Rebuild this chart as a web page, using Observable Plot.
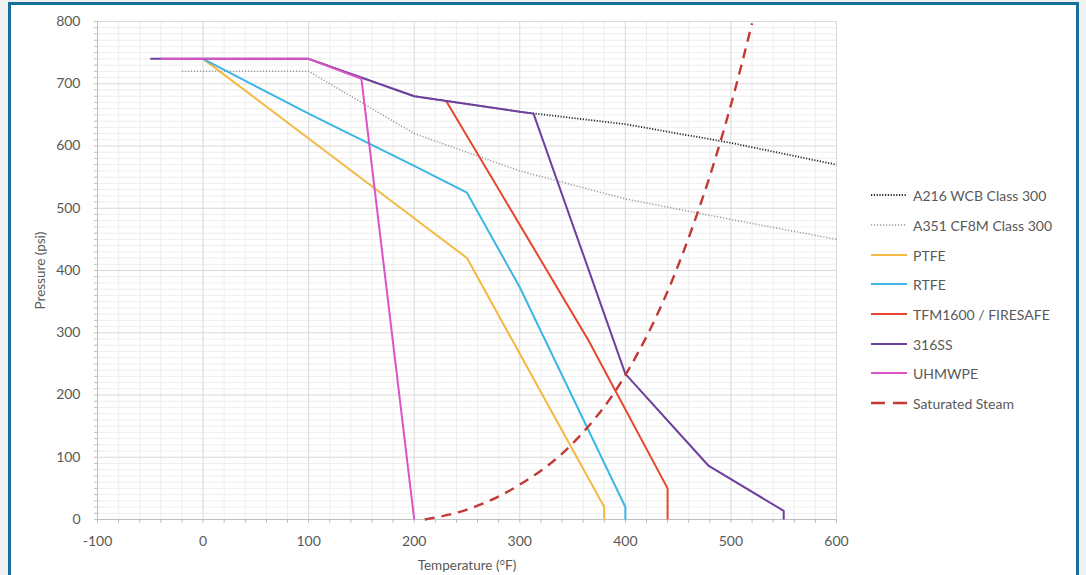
<!DOCTYPE html>
<html>
<head>
<meta charset="utf-8">
<script src="https://cdn.jsdelivr.net/npm/d3@7"></script>
<script src="https://cdn.jsdelivr.net/npm/@observablehq/plot@0.6"></script>
<style>
  html, body { margin: 0; padding: 0; background: #eef0f2; width: 1086px; height: 575px; overflow: hidden; }
  #frame { position: absolute; left: 8px; top: 2px; width: 1065px; height: 620px; border: 3px solid #17709a; background: #ffffff; }
  #chart { position: absolute; left: 0; top: 0; }
  #legend { position: absolute; left: 870px; top: 185px; font-family: Lato, "Open Sans", sans-serif; font-size: 14px; color: #595959; }
  .item { position: absolute; left: 0; height: 20px; white-space: nowrap; display: flex; align-items: center; }
  .item svg { margin-right: 5px; }
</style>
</head>
<body>
<div id="frame"></div>
<div id="chart"></div>
<div id="legend"></div>
<script>
// ---- data (temperature °F, pressure psi) ----
const seriesNames = ["A216 WCB Class 300", "A351 CF8M Class 300", "PTFE", "RTFE", "TFM1600 / FIRESAFE", "316SS", "UHMWPE", "Saturated Steam"];
const a216T = [-20, 100, 200, 300, 400, 500, 600];
const a216P = [740, 740, 680, 655, 635, 605, 570];
const a351T = [-20, 100, 200, 300, 400, 500, 600];
const a351P = [720, 720, 620, 560, 515, 482, 450];
const ptfeT = [0, 100, 200, 250, 380, 380];
const ptfeP = [740, 612, 484, 420, 20, 0];
const rtfeT = [0, 100, 200, 250, 300, 400, 400];
const rtfeP = [740, 652, 568, 525, 373, 20, 0];
const tfmT = [230, 365, 440, 440];
const tfmP = [673, 288, 50, 0];
const ss316T = [-50, 100, 200, 300, 313, 400, 479, 550, 550];
const ss316P = [740, 740, 680, 655, 652, 234, 86, 14, 0];
const uhmwT = [-40, 100, 150, 200];
const uhmwP = [740, 740, 708, 0];
const steamT = [210, 250, 300, 350, 400, 450, 500, 520];
const steamP = [0, 16, 56, 122, 232, 408, 666, 797];
const xTicks = [-100, 0, 100, 200, 300, 400, 500, 600];
const yTicks = [0, 100, 200, 300, 400, 500, 600, 700, 800];

const seriesData = [
  [a216T, a216P], [a351T, a351P], [ptfeT, ptfeP], [rtfeT, rtfeP],
  [tfmT, tfmP], [ss316T, ss316P], [uhmwT, uhmwP], [steamT, steamP]
];

// ---- styles ----
const styles = [
  {stroke: "#2b2b2b", strokeWidth: 1.8, dash: "1.2,1.6"},
  {stroke: "#9a9a9a", strokeWidth: 1.5, dash: "1.2,1.8"},
  {stroke: "#f4b942", strokeWidth: 2},
  {stroke: "#3db5e6", strokeWidth: 2},
  {stroke: "#e9442d", strokeWidth: 2},
  {stroke: "#6d3f9e", strokeWidth: 2},
  {stroke: "#dc52c7", strokeWidth: 2},
  {stroke: "#c23a36", strokeWidth: 2.4, dash: "10,7"}
];

const table = seriesData.map(([T, P], i) => T.map((t, j) => ({series: seriesNames[i], t, p: P[j]})));

const minorX = d3.range(-100, 601, 20).filter(v => v % 100 !== 0);
const minorY = d3.range(0, 801, 10).filter(v => v % 100 !== 0);

const lineMarks = table.map((rows, i) => Plot.line(rows, {
  x: "t", y: "p",
  stroke: styles[i].stroke,
  strokeWidth: styles[i].strokeWidth,
  strokeDasharray: styles[i].dash,
  strokeLinejoin: "round",
  strokeLinecap: "butt",
  curve: i === 7 ? "monotone-x" : "linear"
}));
const order = [1, 0, 2, 3, 4, 5, 6, 7];

const plot = Plot.plot({
  width: 1086,
  height: 575,
  marginLeft: 97,
  marginRight: 250,
  marginTop: 21,
  marginBottom: 56,
  style: {background: "transparent", fontFamily: "Lato, 'Open Sans', sans-serif", fontSize: "14px", color: "#595959"},
  x: {domain: [-100, 600]},
  y: {domain: [0, 800]},
  marks: [
    Plot.ruleX(minorX, {stroke: "#eeeeee", strokeWidth: 1}),
    Plot.ruleY(minorY, {stroke: "#eeeeee", strokeWidth: 1}),
    Plot.ruleX(xTicks.filter(v => v > -100), {stroke: "#d9d9d9", strokeWidth: 1}),
    Plot.ruleY(yTicks.filter(v => v > 0), {stroke: "#d9d9d9", strokeWidth: 1}),
    Plot.axisX({ticks: d3.range(-100, 601, 20), tickSize: 4, tickFormat: () => "", stroke: "#bfbfbf", label: null}),
    Plot.axisY({ticks: d3.range(0, 801, 10), tickSize: 3, tickFormat: () => "", stroke: "#bfbfbf", label: null}),
    Plot.axisX({ticks: xTicks, tickSize: 0, tickPadding: 17, tickFormat: d => String(d), fill: "#595959", fontSize: 14, label: "Temperature (°F)", labelAnchor: "center", labelArrow: "none", labelOffset: 50}),
    Plot.axisY({ticks: yTicks, tickSize: 0, tickPadding: 17, tickFormat: d => String(d), fill: "#595959", fontSize: 14, label: "Pressure (psi)", labelAnchor: "center", labelArrow: "none", labelOffset: 62}),
    Plot.ruleY([0], {stroke: "#bfbfbf", strokeWidth: 1.2}),
    Plot.ruleX([-100], {stroke: "#bfbfbf", strokeWidth: 1}),
    ...order.map(i => lineMarks[i])
  ]
});
plot.querySelectorAll("[aria-label='x-axis label'] text, [aria-label='y-axis label'] text").forEach(t => { t.setAttribute("font-size", "13.5"); });
document.getElementById("chart").appendChild(plot);

// ---- legend ----
const legend = d3.select("#legend");
const legendTops = [0, 30, 60, 89, 119, 149, 178, 208];
seriesNames.forEach((name, i) => {
  const item = legend.append("div").attr("class", "item").style("top", legendTops[i] + "px");
  const svg = item.append("svg").attr("width", 38).attr("height", 20);
  svg.append("line").attr("x1", 1).attr("x2", 37).attr("y1", 10).attr("y2", 10)
    .attr("stroke", styles[i].stroke)
    .attr("stroke-width", i === 7 ? 2.4 : styles[i].strokeWidth)
    .attr("stroke-dasharray", i === 7 ? "14,8" : (styles[i].dash || null));
  item.append("span").text(name);
});
</script>
</body>
</html>
